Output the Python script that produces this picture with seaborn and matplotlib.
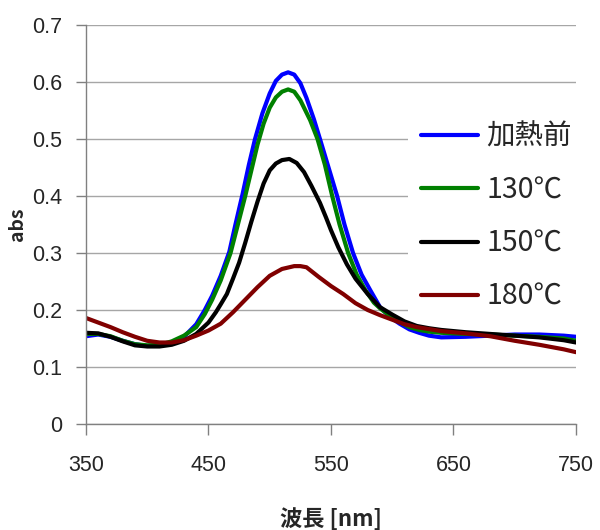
import matplotlib
matplotlib.use("Agg")
import matplotlib.pyplot as plt
import seaborn as sns

# 吸収スペクトル (読み取り値)
blue_nm = [350, 360, 370, 380, 390, 400, 410, 420, 430, 440,
           447, 453, 460, 467, 472, 478, 483, 488, 494, 500,
           505, 510, 515, 520, 525, 530, 536, 541, 548, 555,
           561, 568, 575, 582, 590, 598, 606, 614, 622, 630,
           640, 660, 680, 700, 720, 740, 750]
blue_abs = [0.154, 0.157, 0.153, 0.146, 0.140, 0.137, 0.138, 0.143, 0.153, 0.175,
            0.200, 0.225, 0.260, 0.302, 0.350, 0.405, 0.455, 0.500, 0.545, 0.580,
            0.602, 0.613, 0.617, 0.613, 0.598, 0.572, 0.535, 0.500, 0.450, 0.400,
            0.350, 0.300, 0.262, 0.235, 0.205, 0.188, 0.176, 0.166, 0.160, 0.155,
            0.152, 0.153, 0.155, 0.157, 0.157, 0.155, 0.153]

green_nm = [350, 360, 370, 380, 390, 400, 410, 420, 430, 440,
            447, 453, 460, 468, 474, 480, 485, 490, 495, 500,
            505, 510, 515, 520, 525, 533, 539, 545, 551, 557,
            564, 571, 578, 585, 590, 598, 606, 614, 622, 630,
            640, 660, 680, 700, 720, 740, 750]
green_abs = [0.158, 0.158, 0.154, 0.146, 0.140, 0.138, 0.139, 0.145, 0.155, 0.170,
             0.193, 0.218, 0.252, 0.300, 0.350, 0.400, 0.445, 0.490, 0.527, 0.555,
             0.573, 0.583, 0.587, 0.583, 0.568, 0.533, 0.500, 0.455, 0.400, 0.350,
             0.300, 0.262, 0.235, 0.213, 0.203, 0.190, 0.179, 0.170, 0.165, 0.162,
             0.160, 0.158, 0.157, 0.155, 0.153, 0.150, 0.146]

black_nm = [350, 360, 370, 380, 390, 400, 410, 420, 430, 440,
            450, 456, 460, 465, 470, 475, 480, 485, 490, 495,
            500, 505, 510, 516, 522, 528, 534, 541, 546, 550,
            556, 563, 570, 580, 590, 600, 610, 620, 630, 640,
            660, 680, 700, 720, 740, 750]
black_abs = [0.160, 0.159, 0.153, 0.145, 0.138, 0.136, 0.136, 0.139, 0.146, 0.158,
             0.178, 0.196, 0.210, 0.228, 0.255, 0.283, 0.318, 0.355, 0.390, 0.422,
             0.445, 0.457, 0.463, 0.465, 0.458, 0.442, 0.418, 0.388, 0.362, 0.340,
             0.310, 0.280, 0.255, 0.228, 0.205, 0.192, 0.180, 0.172, 0.168, 0.165,
             0.161, 0.158, 0.155, 0.152, 0.147, 0.143]

red_nm = [350, 360, 370, 380, 390, 400, 410, 420, 430, 440,
          450, 460, 470, 480, 490, 500, 510, 520, 525, 530,
          540, 550, 560, 570, 580, 590, 600, 610, 620, 640,
          660, 680, 700, 720, 740, 750]
red_abs = [0.186, 0.178, 0.170, 0.161, 0.153, 0.146, 0.143, 0.143, 0.147, 0.155,
           0.164, 0.176, 0.196, 0.218, 0.240, 0.260, 0.272, 0.277, 0.277, 0.275,
           0.258, 0.242, 0.228, 0.212, 0.200, 0.191, 0.183, 0.175, 0.170, 0.163,
           0.159, 0.154, 0.146, 0.139, 0.131, 0.126]

labels = ["加熱前", "130℃", "150℃", "180℃"]
colors = ["#0000ff", "#008000", "#000000", "#800000"]

xticks = [350, 450, 550, 650, 750]
yticks = [0, 0.1, 0.2, 0.3, 0.4, 0.5, 0.6, 0.7]
ytick_labels = ["0", "0.1", "0.2", "0.3", "0.4", "0.5", "0.6", "0.7"]

sns.set_style("white")
plt.rcParams["font.family"] = ["Noto Sans CJK JP", "DejaVu Sans"]

fig, ax = plt.subplots(figsize=(6, 5.3), dpi=100)
fig.subplots_adjust(left=0.1433, right=0.96, bottom=0.2, top=0.9528)

series = [(blue_nm, blue_abs), (green_nm, green_abs),
          (black_nm, black_abs), (red_nm, red_abs)]
for (nm, ab), lab, c in zip(series, labels, colors):
    sns.lineplot(x=nm, y=ab, color=c, lw=3, label=lab, ax=ax)

ax.set_xlim(350, 750)
ax.set_ylim(0, 0.7)
ax.set_xticks(xticks)
ax.set_yticks(yticks)
ax.set_yticklabels(ytick_labels)
for t in ax.get_xticklabels() + ax.get_yticklabels():
    t.set_family(["Liberation Sans", "DejaVu Sans"])

ax.yaxis.grid(True, color="#a6a6a6", lw=1)
ax.xaxis.grid(False)
ax.set_axisbelow(True)

for s in ["top", "right"]:
    ax.spines[s].set_visible(False)
for s in ["left", "bottom"]:
    ax.spines[s].set_color("#808080")
    ax.spines[s].set_linewidth(1)

ax.tick_params(axis="y", direction="out", left=True, length=7, width=1,
               color="#808080", pad=10, labelsize=15.5)
ax.tick_params(axis="x", direction="out", bottom=True, length=8, width=1,
               color="#808080", pad=14, labelsize=15.5)

ax.set_ylabel("abs", fontsize=14, fontweight="bold", labelpad=4)
ax.set_xlabel("波長 [nm]", fontsize=16, fontweight="bold", labelpad=23)

leg = ax.legend(loc="lower left", bbox_to_anchor=(0.657, 0.249),
                borderaxespad=0, fontsize=20.5, handlelength=2,
                handletextpad=0.3, labelspacing=0.82, borderpad=0.45,
                frameon=True, fancybox=False, framealpha=1)
leg.get_frame().set_facecolor("white")
leg.get_frame().set_edgecolor("none")
leg.set_zorder(1.5)  # 凡例の白地はグリッドの上、曲線の下

fig.savefig("out.png", dpi=100)
